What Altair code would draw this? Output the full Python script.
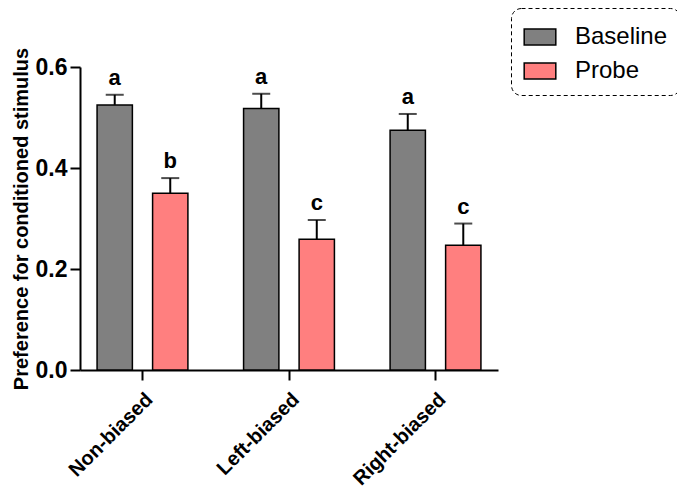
import altair as alt
import pandas as pd

categories = ["Non-biased", "Left-biased", "Right-biased"]
groups = ["Baseline", "Probe"]
baseline_mean = [0.525, 0.518, 0.475]
baseline_err = [0.545, 0.547, 0.507]
probe_mean = [0.350, 0.259, 0.247]
probe_err = [0.380, 0.297, 0.290]
baseline_letters = ["a", "a", "a"]
probe_letters = ["b", "c", "c"]
colors = ["#808080", "#FF7F7F"]

rows = []
for i, c in enumerate(categories):
    rows.append({"cat": c, "grp": "Baseline", "mean": baseline_mean[i], "err": baseline_err[i], "letter": baseline_letters[i]})
    rows.append({"cat": c, "grp": "Probe", "mean": probe_mean[i], "err": probe_err[i], "letter": probe_letters[i]})
df = pd.DataFrame(rows)

FONT = "Liberation Sans"

x = alt.X("cat:N", sort=categories, title=None,
          scale=alt.Scale(paddingInner=0.38, paddingOuter=0.1165),
          axis=alt.Axis(labelAngle=-45, labelAlign="right", labelBaseline="top",
                        labelFontSize=20, labelFontWeight="bold", labelFont=FONT,
                        labelColor="black", labelPadding=9,
                        domainColor="black", domainWidth=2, tickColor="black",
                        tickWidth=2, tickSize=10))
xo = alt.XOffset("grp:N", sort=groups, scale=alt.Scale(paddingInner=0.364, paddingOuter=0))
yscale = alt.Scale(domain=[0, 0.6], nice=False)

bars = alt.Chart(df).mark_bar(stroke="black", strokeWidth=1.5).encode(
    x=x, xOffset=xo,
    y=alt.Y("mean:Q", scale=yscale, title="Preference for conditioned  stimulus",
            axis=alt.Axis(values=[0, 0.2, 0.4, 0.6], format=".1f", grid=False,
                          labelFontSize=23, labelFontWeight="bold", labelFont=FONT,
                          labelColor="black", labelPadding=3,
                          titleFontSize=20, titleFontWeight="bold", titleFont=FONT,
                          titleColor="black", titlePadding=4,
                          domainColor="black", domainWidth=2, tickColor="black",
                          tickWidth=2, tickSize=10)),
    color=alt.Color("grp:N", sort=groups, scale=alt.Scale(domain=groups, range=colors),
                    legend=alt.Legend(title=None, orient="none", legendX=431, legendY=-59,
                                      strokeColor="black", cornerRadius=10,
                                      padding=12, rowPadding=5, labelFontSize=24, labelFont=FONT,
                                      labelColor="black", labelOffset=18,
                                      symbolType="M-1,-0.5H1V0.5H-1Z", symbolSize=1000,
                                      symbolStrokeColor="black", symbolStrokeWidth=1.5,
                                      symbolOpacity=1)),
)

rules = alt.Chart(df).mark_rule(color="black", strokeWidth=2).encode(
    x=x, xOffset=xo, y=alt.Y("mean:Q", scale=yscale), y2="err:Q"
)
caps = alt.Chart(df).mark_tick(color="black", thickness=2, size=18, orient="horizontal").encode(
    x=x, xOffset=xo, y=alt.Y("err:Q", scale=yscale)
)
letters = alt.Chart(df).mark_text(fontSize=22, fontWeight="bold", font=FONT, color="black",
                                  baseline="bottom", dy=-5).encode(
    x=x, xOffset=xo, y=alt.Y("err:Q", scale=yscale), text="letter:N"
)

chart = alt.layer(bars, rules, caps, letters).properties(
    width=418, height=303,
    autosize=alt.AutoSizeParams(type="none"),
    padding={"left": 72, "top": 59, "right": 179, "bottom": 123},
).configure(background="white").configure_view(strokeWidth=0, stroke="transparent").configure_legend(strokeDash=[4, 3])

chart.save("out.html", embed_options={"renderer": "svg", "actions": False})
